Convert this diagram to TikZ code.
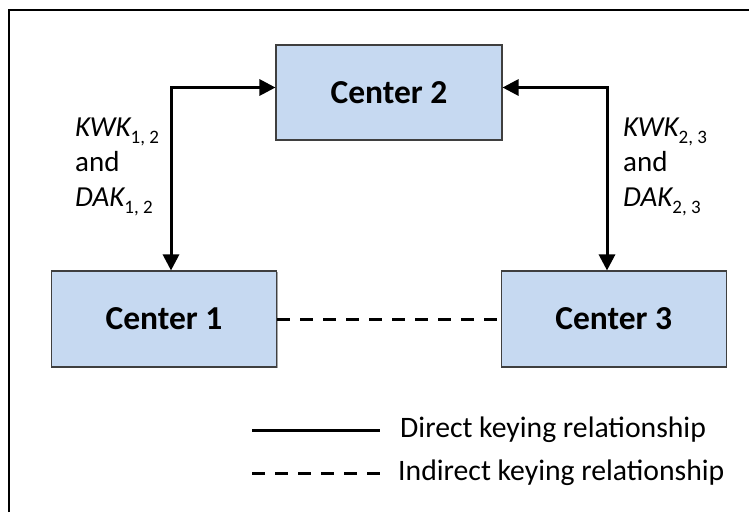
\documentclass[tikz,border=0pt]{standalone}
\usepackage{fontspec}
\setmainfont{Carlito}
\usetikzlibrary{arrows.meta,shadows}
\definecolor{boxfill}{HTML}{C6D9F1}
\definecolor{boxline}{HTML}{3F3F3F}
\tikzset{
  center/.style={draw=boxline, line width=1.1pt, fill=boxfill, minimum width=225pt, minimum height=96pt,
    inner sep=0pt, font=\fontsize{33.5}{38}\selectfont\bfseries,
    drop shadow={shadow xshift=1.2pt, shadow yshift=-1.2pt, opacity=0.35, fill=black}},
  conn/.style={line width=3pt, {Triangle[length=16pt,width=16pt]}-{Triangle[length=16pt,width=16pt]}},
  indirect/.style={line width=3pt, dash pattern=on 13pt off 10pt},
  lbl/.style={anchor=base west, inner sep=0pt, font=\fontsize{29}{34}\selectfont},
  legtxt/.style={anchor=west, inner sep=0pt, font=\fontsize{29.7}{34}\selectfont},
}
\newcommand{\mysub}[1]{\raisebox{-7pt}{\fontsize{19}{19}\selectfont\upshape #1}}
\begin{document}
\begin{tikzpicture}[x=1pt,y=-1pt]
\useasboundingbox (0,0) rectangle (749,512);
% frame (cropped at right and bottom)
\draw[line width=2.4pt] (9,512) -- (9,10) -- (749,10);
% boxes
\node[center, minimum width=226pt, minimum height=95pt] (c2) at (389,92.5) {Center 2};
\node[center] (c1) at (164,319) {Center 1};
\node[center] (c3) at (613.7,319) {Center 3};
% junction corners
\coordinate (j1) at (171,87.5);
\coordinate (j2) at (607,87.5);
% direct relationships
\draw[conn] (c1.north -| j1) -- (j1) -- (c2.west |- j1);
\draw[conn] (c3.north -| j2) -- (j2) -- (c2.east |- j2);
% indirect relationship
\draw[indirect] (c1.east) -- (c3.west);
% labels left
\node[lbl] (k12) at (75,136) {\itshape KWK\mysub{1, 2}};
\node[lbl] (a12) at (75,171.5) {and};
\node[lbl] (d12) at (75,206.5) {\itshape DAK\mysub{1, 2}};
% labels right
\node[lbl] (k23) at (623,136) {\itshape KWK\mysub{2, 3}};
\node[lbl] (a23) at (623,171.5) {and};
\node[lbl] (d23) at (623,206.5) {\itshape DAK\mysub{2, 3}};
% legend
\coordinate (ls1) at (252,430);
\coordinate (le1) at (380,430);
\coordinate (ls2) at (252,473);
\coordinate (le2) at (380,473);
\draw[line width=3pt] (ls1) -- (le1);
\draw[indirect] (ls2) -- (le2);
\node[legtxt] (t1) at (400,430) {Direct keying relationship};
\node[legtxt] (t2) at (398,473) {Indirect keying relationship};
\end{tikzpicture}
\end{document}
